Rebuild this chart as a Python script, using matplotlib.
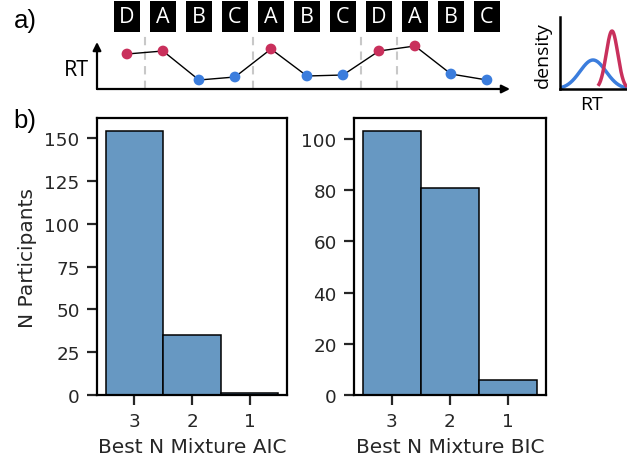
import numpy as np
import matplotlib.pyplot as plt
from matplotlib.patches import Rectangle

# ---- data ----
sequence = ["D", "A", "B", "C", "A", "B", "C", "D", "A", "B", "C"]
rt_values = [35, 38, 9, 12, 40, 13, 14, 38, 43, 15, 9]
boundaries = [0.5, 3.5, 6.5, 7.5]

# schematic densities (mean, sd, peak height, x range)
dens_means = [33, 52]
dens_sds = [13, 5.8]
dens_peaks = [29, 58]
dens_ranges = [(0, 67), (38, 67)]

mixture_n = ["3", "2", "1"]
aic_counts = [154, 35, 1]
bic_counts = [103, 81, 6]

RED = "#c9305c"
BLUE = "#3b7ddd"
BAR = "#6798c2"
TXT = "#262626"

W, H = 627, 464
fig = plt.figure(figsize=(W / 100, H / 100), dpi=100)


def px_axes(x0, y0, x1, y1):
    # axes from pixel box (top-left origin)
    return fig.add_axes([x0 / W, 1 - y1 / H, (x1 - x0) / W, (y1 - y0) / H])


# ---- panel a: trial sequence ----
ax_a = px_axes(97, 43, 510, 90)
ax_a.set_xlim(-0.833, 10.64)
ax_a.set_ylim(0, 47)
ax_a.axis("off")

idx = np.arange(len(sequence))
ax_a.plot(idx, rt_values, color="black", lw=1, zorder=2, clip_on=False)
cols = [RED if s in ("A", "D") else BLUE for s in sequence]
ax_a.scatter(idx, rt_values, s=60, c=cols, zorder=3, clip_on=False, linewidths=0)

for b in boundaries:
    ax_a.plot([b, b], [0, 57], color="#c8c8c8", lw=1.5, ls=(0, (4, 3)),
              clip_on=False, zorder=1)

for i, s in enumerate(sequence):
    ax_a.add_patch(Rectangle((i - 0.36, 57), 0.72, 31, facecolor="black",
                             edgecolor="none", clip_on=False))
    ax_a.text(i, 72.5, s, color="white", ha="center", va="center",
              fontsize=15.5, family="Open Sans", clip_on=False)

arrow = dict(arrowstyle="-|>", color="black", lw=1.6, mutation_scale=12,
             shrinkA=0, shrinkB=0)
ax_a.annotate("", xy=(1, 0), xytext=(0, 0), xycoords="axes fraction",
              arrowprops=arrow)
ax_a.annotate("", xy=(0, 1), xytext=(0, 0), xycoords="axes fraction",
              arrowprops=arrow)
fig.text(76 / W, 1 - 70 / H, "RT", fontsize=15.5, family="Open Sans",
         ha="center", va="center")

# ---- panel a: density inset ----
ax_d = px_axes(560, 18, 627, 90)
ax_d.set_xlim(0, 67)
ax_d.set_ylim(0, 72)
for m, sd, pk, (lo, hi), c in zip(dens_means, dens_sds, dens_peaks,
                                  dens_ranges, [BLUE, RED]):
    xs = np.linspace(lo, hi, 200)
    ax_d.plot(xs, pk * np.exp(-0.5 * ((xs - m) / sd) ** 2), color=c, lw=2.5,
              solid_capstyle="butt")
for sp in ["top", "right"]:
    ax_d.spines[sp].set_visible(False)
for sp in ["left", "bottom"]:
    ax_d.spines[sp].set_linewidth(1.8)
ax_d.set_xticks([])
ax_d.set_yticks([])
fig.text(543 / W, 1 - 55 / H, "density", rotation=90, fontsize=14,
         family="Open Sans", ha="center", va="center")
fig.text(592 / W, 1 - 105 / H, "RT", fontsize=14, family="Open Sans",
         ha="center", va="center")

fig.text(25 / W, 1 - 21 / H, "a)", fontsize=18.5, family="Liberation Sans",
         ha="center", va="center")
fig.text(25 / W, 1 - 121 / H, "b)", fontsize=18.5, family="Liberation Sans",
         ha="center", va="center")

# ---- panel b: histograms ----
ax_l = px_axes(97, 119, 287, 396)
ax_r = px_axes(354, 119, 546, 396)
for ax, counts, lab in [(ax_l, aic_counts, "Best N Mixture AIC"),
                        (ax_r, bic_counts, "Best N Mixture BIC")]:
    ax.bar(mixture_n, counts, width=1, color=BAR, edgecolor="black", lw=1.1)
    ax.set_xlabel(lab, fontsize=14.5, color=TXT, labelpad=5)
    ax.tick_params(labelsize=13.2, length=7, width=1.6, colors=TXT, pad=5.5)
    for sp in ax.spines.values():
        sp.set_linewidth(1.6)
ax_l.set_ylabel("N Participants", fontsize=14.5, color=TXT, labelpad=5)
ax_l.set_yticks([0, 25, 50, 75, 100, 125, 150])
ax_r.set_yticks([0, 20, 40, 60, 80, 100])

fig.savefig("out.png", dpi=100)
